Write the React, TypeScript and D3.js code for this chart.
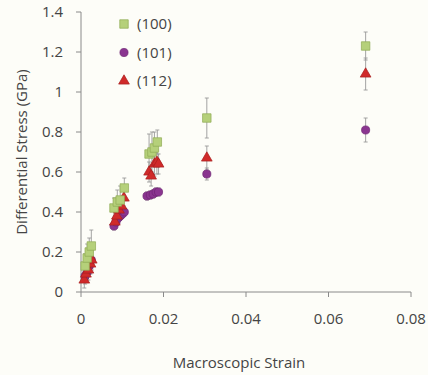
import React from "react";
import * as d3 from "d3";

const xTicks = [0, 0.02, 0.04, 0.06, 0.08];
const yTicks = [0, 0.2, 0.4, 0.6, 0.8, 1, 1.2, 1.4];

// (100)
const s100x = [0.001, 0.0015, 0.002, 0.0025, 0.008, 0.0088, 0.0095, 0.0105, 0.0165, 0.0172, 0.0178, 0.0185, 0.0305, 0.069];
const s100y = [0.13, 0.17, 0.2, 0.23, 0.42, 0.45, 0.46, 0.52, 0.69, 0.7, 0.72, 0.75, 0.87, 1.23];
const s100e = [0.06, 0.07, 0.07, 0.08, 0.05, 0.06, 0.07, 0.05, 0.1, 0.1, 0.08, 0.06, 0.1, 0.07];
// (101)
const s101x = [0.001, 0.0015, 0.002, 0.0025, 0.008, 0.0085, 0.009, 0.0095, 0.01, 0.0105, 0.016, 0.0168, 0.0175, 0.0182, 0.0188, 0.0305, 0.069];
const s101y = [0.08, 0.1, 0.13, 0.16, 0.33, 0.35, 0.37, 0.38, 0.39, 0.4, 0.48, 0.485, 0.49, 0.5, 0.5, 0.59, 0.81];
const s101e = [0.04, 0.04, 0.04, 0.04, 0.02, 0.02, 0.02, 0.02, 0.02, 0.02, 0.02, 0.02, 0.02, 0.02, 0.02, 0.03, 0.06];
// (112)
const s112x = [0.0008, 0.0012, 0.0018, 0.0023, 0.0026, 0.0082, 0.0087, 0.0092, 0.0098, 0.0104, 0.0165, 0.017, 0.0178, 0.0184, 0.0188, 0.0305, 0.069];
const s112y = [0.06, 0.09, 0.11, 0.14, 0.16, 0.35, 0.38, 0.41, 0.43, 0.47, 0.6, 0.58, 0.64, 0.65, 0.64, 0.67, 1.09];
const s112e = [0.04, 0.04, 0.05, 0.05, 0.05, 0.03, 0.04, 0.04, 0.04, 0.04, 0.05, 0.05, 0.06, 0.06, 0.05, 0.06, 0.08];

const legendLabels = ["(100)", "(101)", "(112)"];

const W = 428, H = 375;
const x = d3.scaleLinear().domain([0, 0.08]).range([81, 411]);
const y = d3.scaleLinear().domain([0, 1.4]).range([292, 12]);

const font = "'Open Sans', 'DejaVu Sans', sans-serif";
const txt = "#444444";
const axisCol = "#8a8a8a";

const C100 = { fill: "#b5d07a", stroke: "#8fab55" };
const C101 = { fill: "#8a3590", stroke: "#6e2472" };
const C112 = { fill: "#d02a2a", stroke: "#a81e1e" };

function ErrBars({ xs, ys, es }: { xs: number[]; ys: number[]; es: number[] }) {
  return (
    <g stroke="#9a9a9a" strokeWidth={0.9}>
      {xs.map((v, i) => {
        const cx = x(v);
        const y1 = y(ys[i] + es[i]);
        const y2 = y(ys[i] - es[i]);
        return (
          <g key={i}>
            <line x1={cx} x2={cx} y1={y1} y2={y2} />
            <line x1={cx - 2} x2={cx + 2} y1={y1} y2={y1} />
            <line x1={cx - 2} x2={cx + 2} y1={y2} y2={y2} />
          </g>
        );
      })}
    </g>
  );
}

const sq = d3.symbol().type(d3.symbolSquare).size(72)() as string;
const ci = d3.symbol().type(d3.symbolCircle).size(52)() as string;
const tr = d3.symbol().type(d3.symbolTriangle).size(50)() as string;

function Marks({ xs, ys, path, c }: { xs: number[]; ys: number[]; path: string; c: { fill: string; stroke: string } }) {
  return (
    <g fill={c.fill} stroke={c.stroke} strokeWidth={0.7}>
      {xs.map((v, i) => (
        <path key={i} d={path} transform={`translate(${x(v)},${y(ys[i])})`} />
      ))}
    </g>
  );
}

export default function App() {
  const legend = [
    { p: sq, c: C100 },
    { p: ci, c: C101 },
    { p: tr, c: C112 },
  ];
  return (
    <svg width={W} height={H} style={{ position: "absolute", left: 0, top: 0, background: "#fdfdf8" }}>
      <rect width={W} height={H} fill="#fdfdf8" />
      {/* axes */}
      <g stroke={axisCol} strokeWidth={1} fill="none">
        <line x1={x(0)} x2={x(0)} y1={y(1.4)} y2={y(0)} />
        <line x1={x(0)} x2={x(0.08)} y1={y(0)} y2={y(0)} />
        {yTicks.map((t) => (
          <line key={t} x1={x(0) - 5} x2={x(0)} y1={y(t)} y2={y(t)} />
        ))}
        {xTicks.map((t) => (
          <line key={t} x1={x(t)} x2={x(t)} y1={y(0)} y2={y(0) + 5} />
        ))}
      </g>
      <g fontFamily={font} fontSize={15} fill={txt}>
        {yTicks.map((t) => (
          <text key={t} x={x(0) - 18} y={y(t)} dy="0.35em" textAnchor="end">
            {d3.format("~g")(t)}
          </text>
        ))}
        {xTicks.map((t) => (
          <text key={t} x={x(t)} y={y(0) + 32} textAnchor="middle">
            {d3.format("~g")(t)}
          </text>
        ))}
        <text x={239} y={368} textAnchor="middle">Macroscopic Strain</text>
        <text transform={`translate(27,${y(0.7)}) rotate(-90)`} textAnchor="middle">
          Differential Stress (GPa)
        </text>
      </g>
      {/* data */}
      <ErrBars xs={s100x} ys={s100y} es={s100e} />
      <ErrBars xs={s101x} ys={s101y} es={s101e} />
      <ErrBars xs={s112x} ys={s112y} es={s112e} />
      <Marks xs={s101x} ys={s101y} path={ci} c={C101} />
      <Marks xs={s112x} ys={s112y} path={tr} c={C112} />
      <Marks xs={s100x} ys={s100y} path={sq} c={C100} />
      {/* legend */}
      <g fontFamily={font} fontSize={15} fill={txt}>
        {legend.map((l, i) => (
          <g key={i} transform={`translate(124,${24 + i * 28.5})`}>
            <path d={l.p} fill={l.c.fill} stroke={l.c.stroke} strokeWidth={0.7} />
            <text x={13} dy="0.35em">{legendLabels[i]}</text>
          </g>
        ))}
      </g>
    </svg>
  );
}
